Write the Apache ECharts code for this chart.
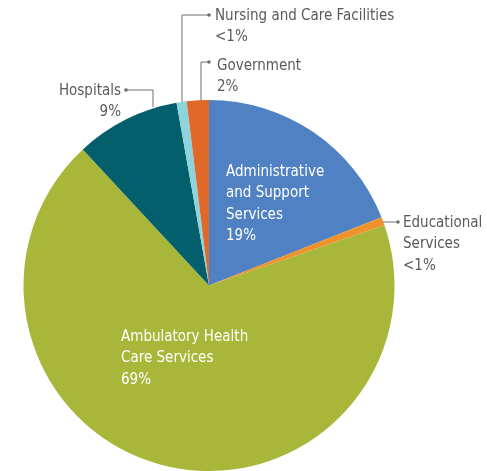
<!DOCTYPE html>
<html>
<head>
<meta charset="utf-8">
<script src="https://cdn.jsdelivr.net/npm/echarts@6/dist/echarts.min.js"></script>
<style>
  html, body { margin: 0; padding: 0; background: #fff; }
  #main { width: 487px; height: 471px; }
</style>
</head>
<body>
<div id="main"></div>
<script>
// slices, clockwise from 12 o'clock
let names = ['Administrative\nand Support\nServices', 'Educational\nServices', 'Ambulatory Health\nCare Services', 'Hospitals', 'Nursing and Care Facilities', 'Government'];
let values = [19.0, 0.72, 68.35, 9.11, 0.88, 1.92];
let shown = ['19%', '<1%', '69%', '9%', '<1%', '2%'];
let colors = ['#4f81c3', '#f0922b', '#a8b73a', '#035f6b', '#8fd4dc', '#e0692a'];

// label placement (x, y = top-left of text block), leader lines and dots
let place = [
    { x: 226, y: 161, inside: true },
    { x: 403, y: 212, line: [[383, 222], [398, 222], [398, 222]], dot: [398, 222] },
    { x: 121, y: 326, inside: true },
    { x: 121, y: 80, align: 'right', line: [[153, 107], [153, 90], [126, 90]], dot: [126, 90] },
    { x: 215, y: 5, line: [[182, 102], [182, 15], [209, 15]], dot: [209, 15] },
    { x: 217, y: 55, line: [[201, 101], [201, 62], [209, 62]], dot: [209, 62] }
];

let font = '"DejaVu Sans Condensed", "Liberation Sans Narrow", sans-serif';
let chart = echarts.init(document.getElementById('main'), null, { renderer: 'canvas' });

let data = values.map((v, i) => ({
    value: v,
    name: names[i],
    itemStyle: { color: colors[i] },
    label: { color: place[i].inside ? '#ffffff' : '#58595b', align: place[i].align || 'left' },
    labelLine: { show: !place[i].inside }
}));

let dots = [];
place.forEach(p => {
    if (p.dot) dots.push({ type: 'circle', shape: { cx: p.dot[0], cy: p.dot[1], r: 1.8 }, style: { fill: '#6d6e71' }, z: 10 });
});

chart.setOption({
    animation: false,
    graphic: dots,
    series: [{
        type: 'pie',
        center: [209, 285.5],
        radius: 185.5,
        startAngle: 90,
        clockwise: true,
        avoidLabelOverlap: false,
        itemStyle: { borderWidth: 0 },
        label: {
            show: true,
            position: 'outside',
            fontFamily: font,
            fontSize: 15,
            lineHeight: 21.5,
            formatter: p => p.name + '\n' + shown[p.dataIndex]
        },
        labelLine: { show: true, lineStyle: { color: '#6d6e71', width: 1 } },
        labelLayout: function (params) {
            let p = place[params.dataIndex];
            let out = { x: p.x, y: p.y, align: p.align || 'left', verticalAlign: 'top' };
            if (p.line) out.labelLinePoints = p.line;
            return out;
        },
        data: data
    }]
});
</script>
</body>
</html>
